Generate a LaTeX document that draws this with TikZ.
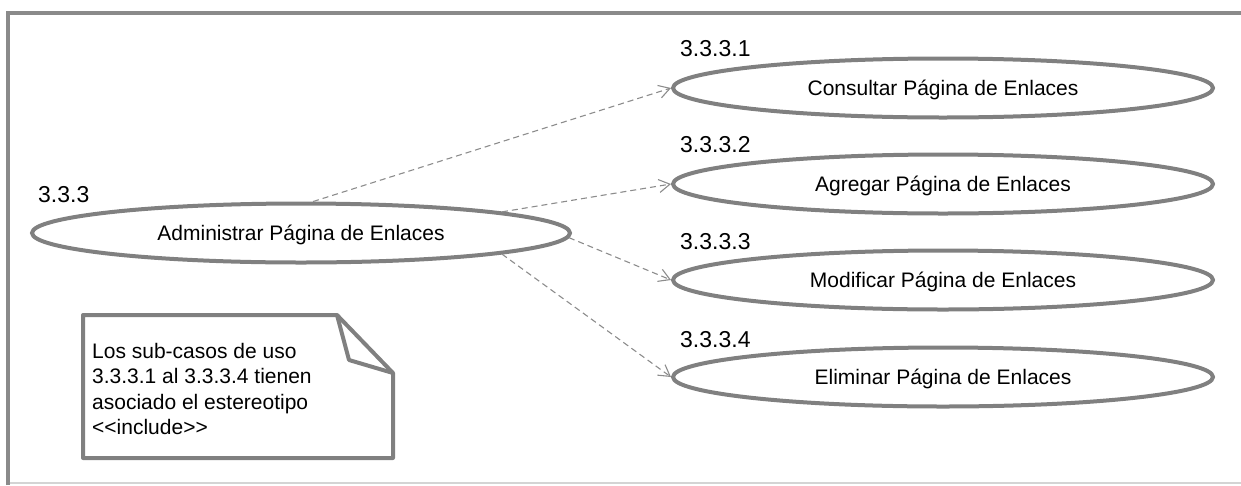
\documentclass[tikz,border=0pt]{standalone}
\usepackage{fontspec}
\setmainfont{Liberation Sans}
\usetikzlibrary{shapes.geometric,arrows.meta}
\definecolor{umlgray}{HTML}{808080}
\definecolor{framegray}{HTML}{8A8A8A}
\definecolor{linegray}{HTML}{8C8C8C}
\definecolor{bottomgray}{HTML}{D4D4D4}
\begin{document}
\begin{tikzpicture}[x=1pt,y=-1pt,
  usecase/.style={ellipse, draw=umlgray, line width=4pt, minimum width=540pt, minimum height=59pt, inner sep=0pt,
    font=\fontsize{21}{24}\selectfont, text height=15pt, text depth=0pt},
  uclabel/.style={anchor=base west, inner sep=0pt, font=\fontsize{23}{27}\selectfont},
  incl/.style={draw=linegray, line width=1.1pt, dash pattern=on 6pt off 4pt,
    -{Straight Barb[length=11pt,width=13pt,line width=1.1pt]}},
  notebox/.style={draw=umlgray, line width=4pt, line join=round},
]
\useasboundingbox (0,0) rectangle (1241,485);
% frame
\draw[framegray, line width=4pt] (7.5,485) -- (7.5,12.5) -- (1241,12.5);
\draw[bottomgray, line width=1.5pt] (9.5,483) -- (1241,483);

% use cases
\node[usecase, minimum width=538pt] (main) at (301,233) {Administrar Página de Enlaces};
\node[usecase] (uc1) at (943,88) {Consultar Página de Enlaces};
\node[usecase] (uc2) at (943,184) {Agregar Página de Enlaces};
\node[usecase] (uc3) at (943,280) {Modificar Página de Enlaces};
\node[usecase] (uc4) at (943,377) {Eliminar Página de Enlaces};

% labels
\node[uclabel] (l0) at (38,202) {3.3.3};
\node[uclabel] (l1) at (680,56) {3.3.3.1};
\node[uclabel] (l2) at (680,152) {3.3.3.2};
\node[uclabel] (l3) at (680,249) {3.3.3.3};
\node[uclabel] (l4) at (680,347) {3.3.3.4};

% include connectors
\draw[incl] (main.69) -- (uc1.west);
\draw[incl] (main.6.6) -- (uc2.west);
\draw[incl] (main.-1) -- (uc3.west);
\draw[incl] (main.-6.3) -- (uc4.west);

% note
\draw[notebox] (83,315) -- (337,315) -- (393,373) -- (393,458) -- (83,458) -- cycle;
\draw[notebox] (337,315) -- (349,360) -- (393,373);
\node[anchor=north west, align=left, inner sep=0pt, font=\fontsize{21}{25.5}\selectfont] (notetext) at (92,342.7)
  {Los sub-casos de uso\\3.3.3.1 al 3.3.3.4 tienen\\asociado el estereotipo\\<{}<include>{}>};
\end{tikzpicture}
\end{document}
